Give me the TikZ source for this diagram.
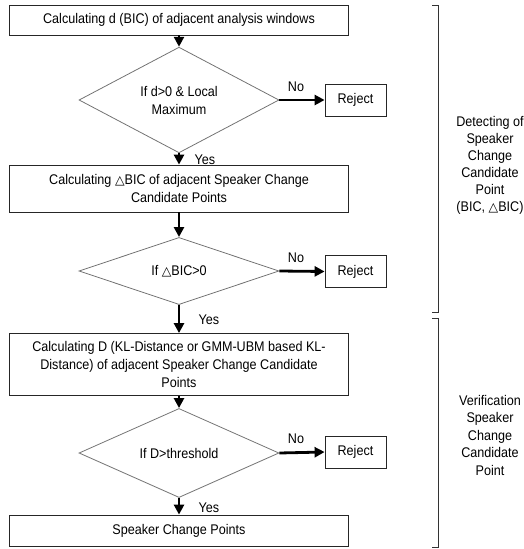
\documentclass[tikz,border=0pt]{standalone}
\usepackage{fontspec}
\setmainfont{Liberation Sans}[FakeStretch=0.9]
\newfontfamily\symfont{DejaVu Sans}
\usetikzlibrary{shapes.geometric,arrows.meta}
\newcommand{\tri}{{\symfont\fontsize{12.5}{12.5}\selectfont △}}

\begin{document}
\begin{tikzpicture}[x=1pt, y=-1pt,
    font=\fontsize{14}{18}\selectfont,
    procbox/.style={draw=black!85, line width=0.8pt, rectangle, minimum width=339pt, inner sep=0pt, align=center},
    decision/.style={draw=black!55, line width=0.8pt, diamond, minimum width=200pt, minimum height=60pt, inner sep=0pt, align=center},
    rejectbox/.style={draw=black!85, line width=0.8pt, rectangle, minimum width=61pt, minimum height=32pt, inner sep=0pt},
    flow/.style={line width=2.8pt, -{Triangle[length=10pt, width=10pt]}},
    bracket/.style={line width=0.8pt, draw=black!80}]
    \useasboundingbox (0,0) rectangle (523,549);

    % Steps
    \node[procbox, minimum height=30pt] (calcd) at (179,20) {Calculating d (BIC) of adjacent analysis windows};
    \node[decision] (ifd) at (179,100) {If d>0 \& Local\\Maximum};
    \node[procbox, minimum height=47pt] (calcdbic) at (179,188.5) {Calculating \tri BIC of adjacent Speaker Change\\Candidate Points};
    \node[decision] (ifdbic) at (179,271) {If \tri BIC>0};
    \node[procbox, minimum height=62pt] (calcD) at (179,364.5) {Calculating D (KL-Distance or GMM-UBM based KL-\\Distance) of adjacent Speaker Change Candidate\\Points};
    \node[decision] (ifD) at (179,453) {If D>threshold};
    \node[procbox, minimum height=31pt] (points) at (179,530.5) {Speaker Change Points};

    % Reject boxes
    \node[rejectbox] (rej1) at (355.5,100) {Reject};
    \node[rejectbox] (rej2) at (355.5,271.5) {Reject};
    \node[rejectbox] (rej3) at (355.5,452) {Reject};

    % Flow arrows
    \draw[flow] (calcd) -- (ifd);
    \draw[flow] (ifd) -- node[right=11pt, yshift=-1pt] {Yes} (calcdbic);
    \draw[flow] (calcdbic) -- (ifdbic);
    \draw[flow] (ifdbic) -- node[right=15pt, yshift=-1pt] {Yes} (calcD);
    \draw[flow] (calcD) -- (ifD);
    \draw[flow] (ifD) -- node[right=15pt, yshift=-1pt] {Yes} (points);

    % No branches
    \draw[flow] (ifd.east) -- node[above=4pt, xshift=-6pt] {No} (rej1.west);
    \draw[flow] (ifdbic.east) -- node[above=4pt, xshift=-6pt] {No} (rej2.west);
    \draw[flow] (ifD.east) -- node[above=4pt, xshift=-6pt] {No} (rej3.west);

    % Brackets
    \draw[bracket] (432,5) -- (438,5) -- (438,312) -- (432,312);
    \draw[bracket] (432,318) -- (438,318) -- (438,547) -- (432,547);
    \node[align=center, font=\fontsize{14}{17}\selectfont] (detect) at (490,165) {Detecting of\\Speaker\\Change\\Candidate\\Point\\(BIC, \tri BIC)};
    \node[align=center, font=\fontsize{14}{17.5}\selectfont] (verify) at (490,435) {Verification\\Speaker\\Change\\Candidate\\Point};
\end{tikzpicture}
\end{document}
